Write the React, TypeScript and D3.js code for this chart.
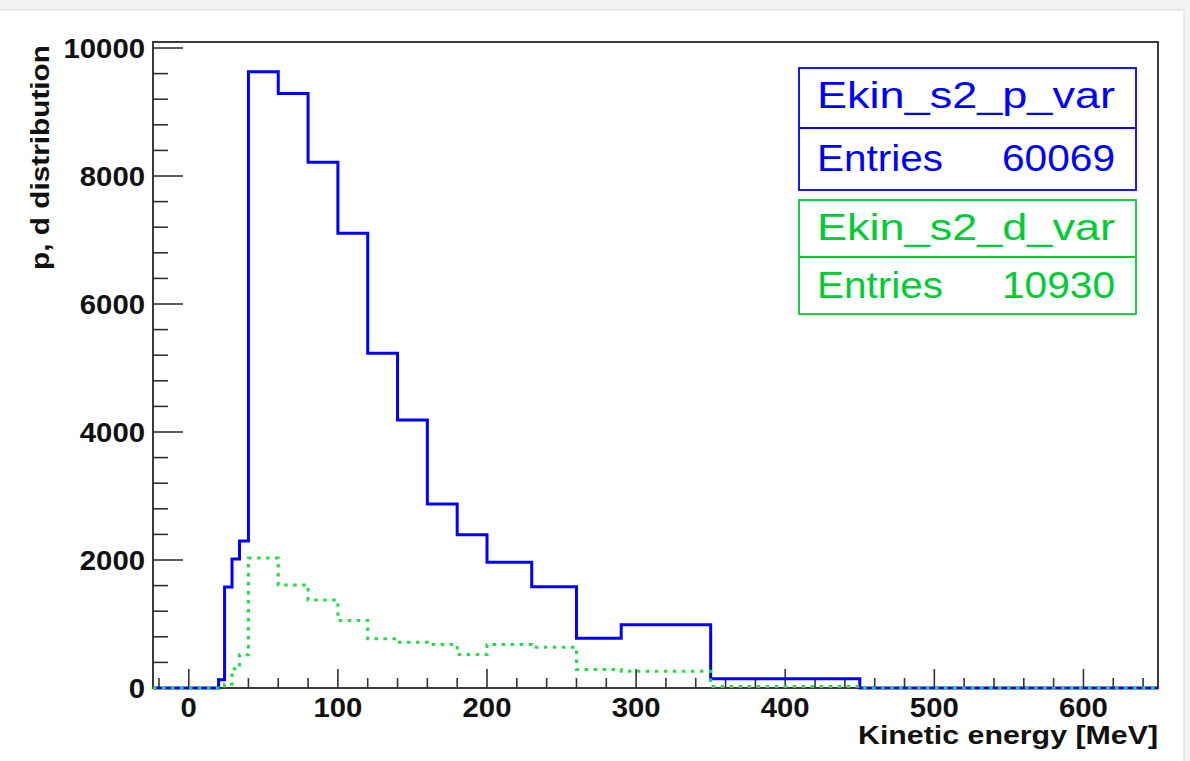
import React from 'react';
import * as d3 from 'd3';

// bin edges (MeV) shared by both histograms
const binEdges = [20, 24, 29, 34, 40, 60, 80, 100, 120, 140, 160, 180, 200, 230, 260, 290, 350, 450, 650];
// bin contents
const protonCounts = [128, 1578, 2016, 2297, 9630, 9290, 8214, 7104, 5230, 4187, 2875, 2396, 1964, 1583, 778, 987, 143, 0];
const deuteronCounts = [0, 60, 300, 520, 2030, 1610, 1375, 1055, 770, 716, 680, 523, 680, 638, 289, 262, 25, 0];

const xMajorTicks = [0, 100, 200, 300, 400, 500, 600];
const yMajorTicks = [0, 2000, 4000, 6000, 8000, 10000];

const statBoxes = [
  { name: 'Ekin_s2_p_var', entries: '60069' },
  { name: 'Ekin_s2_d_var', entries: '10930' },
];

const W = 1190;
const H = 761;
const frame = { left: 153, right: 1158, top: 42, bottom: 688 };
const FONT = '"Liberation Sans", Arial, Helvetica, sans-serif';

const BLUE = '#0000ff';
const GREEN = '#00cc33';
const GREEN_LINE = '#22dd44';

const x = d3.scaleLinear().domain([-24, 650]).range([frame.left, frame.right]);
const y = d3.scaleLinear().domain([0, 10094]).range([frame.bottom, frame.top]);

// step outline like ROOT's histogram drawing; empty from the axis start up to the first edge
function histPath(counts: number[]) {
  const pts: [number, number][] = [[x.domain()[0], 0]];
  counts.forEach((c, i) => pts.push([binEdges[i], c]));
  pts.push([binEdges[binEdges.length - 1], counts[counts.length - 1]]);
  const line = d3.line<[number, number]>()
    .x(d => x(d[0]))
    .y(d => y(d[1]))
    .curve(d3.curveStepAfter);
  return line(pts) || '';
}

// the screenshot's text is a bit wider than Liberation Sans
const labelWidth = (v: number) => String(v).length * 16.3;

export default function App() {
  const xMinor = d3.range(-20, 651, 20).filter(v => v % 100 !== 0);
  const yMinor = d3.range(0, 10001, 400).filter(v => v % 2000 !== 0);
  const boxColors = [BLUE, GREEN];
  const boxTops = [68, 200];

  return (
    <svg width={W} height={H} style={{ position: 'absolute', left: 0, top: 0 }} fontFamily={FONT}>
      {/* page chrome */}
      <rect x={0} y={0} width={W} height={H} fill="#f3f3f3" />
      <rect x={-2} y={10} width={1186} height={H} fill="#ffffff" stroke="#d6d6d6" strokeWidth={1} />

      {/* frame */}
      <rect x={frame.left} y={frame.top} width={frame.right - frame.left} height={frame.bottom - frame.top}
        fill="none" stroke="#3a3a3a" strokeWidth={2} />

      {/* y axis ticks */}
      {yMajorTicks.map(v => (
        <g key={'ym' + v}>
          <line x1={frame.left} x2={frame.left + 30} y1={y(v)} y2={y(v)} stroke="#333" strokeWidth={1.6} />
          <text x={145} y={y(v) + 10} textAnchor="end" fontSize={28} fontWeight="bold" fill="#111"
            textLength={labelWidth(v)} lengthAdjust="spacingAndGlyphs">{v}</text>
        </g>
      ))}
      {yMinor.map(v => (
        <line key={'yn' + v} x1={frame.left} x2={frame.left + 15} y1={y(v)} y2={y(v)} stroke="#333" strokeWidth={1.6} />
      ))}

      {/* x axis ticks */}
      {xMajorTicks.map(v => (
        <g key={'xm' + v}>
          <line x1={x(v)} x2={x(v)} y1={frame.bottom} y2={frame.bottom - 19} stroke="#333" strokeWidth={1.6} />
          <text x={x(v)} y={717} textAnchor="middle" fontSize={28} fontWeight="bold" fill="#111"
            textLength={labelWidth(v)} lengthAdjust="spacingAndGlyphs">{v}</text>
        </g>
      ))}
      {xMinor.map(v => (
        <line key={'xn' + v} x1={x(v)} x2={x(v)} y1={frame.bottom} y2={frame.bottom - 10} stroke="#333" strokeWidth={1.6} />
      ))}

      {/* axis titles */}
      <text x={frame.right} y={744} textAnchor="end" fontSize={25} fontWeight="bold" fill="#111"
        textLength={300} lengthAdjust="spacingAndGlyphs">Kinetic energy [MeV]</text>
      <text transform={`translate(49,45) rotate(-90)`} textAnchor="end" fontSize={25} fontWeight="bold" fill="#111"
        textLength={225} lengthAdjust="spacingAndGlyphs">p, d distribution</text>

      {/* histograms */}
      <path d={histPath(protonCounts)} fill="none" stroke={BLUE} strokeWidth={3} />
      <path d={histPath(deuteronCounts)} fill="none" stroke={GREEN_LINE} strokeWidth={3} strokeDasharray="3.5,5.5" />

      {/* stat boxes */}
      {statBoxes.map((b, i) => {
        const top = boxTops[i];
        const c = boxColors[i];
        return (
          <g key={b.name}>
            <rect x={799} y={top} width={337} height={i === 0 ? 122 : 114} fill="#fff" stroke={c} strokeWidth={1.8} />
            <line x1={799} x2={1136} y1={top + (i === 0 ? 60 : 57)} y2={top + (i === 0 ? 60 : 57)} stroke={c} strokeWidth={1.8} />
            <text x={966} y={top + 40} textAnchor="middle" fontSize={37} fill={c}
              textLength={298} lengthAdjust="spacingAndGlyphs">{b.name}</text>
            <text x={817} y={top + (i === 0 ? 103 : 98)} fontSize={37} fill={c}
              textLength={126} lengthAdjust="spacingAndGlyphs">Entries</text>
            <text x={1115} y={top + (i === 0 ? 103 : 98)} textAnchor="end" fontSize={37} fill={c}
              textLength={113} lengthAdjust="spacingAndGlyphs">{b.entries}</text>
          </g>
        );
      })}
    </svg>
  );
}
